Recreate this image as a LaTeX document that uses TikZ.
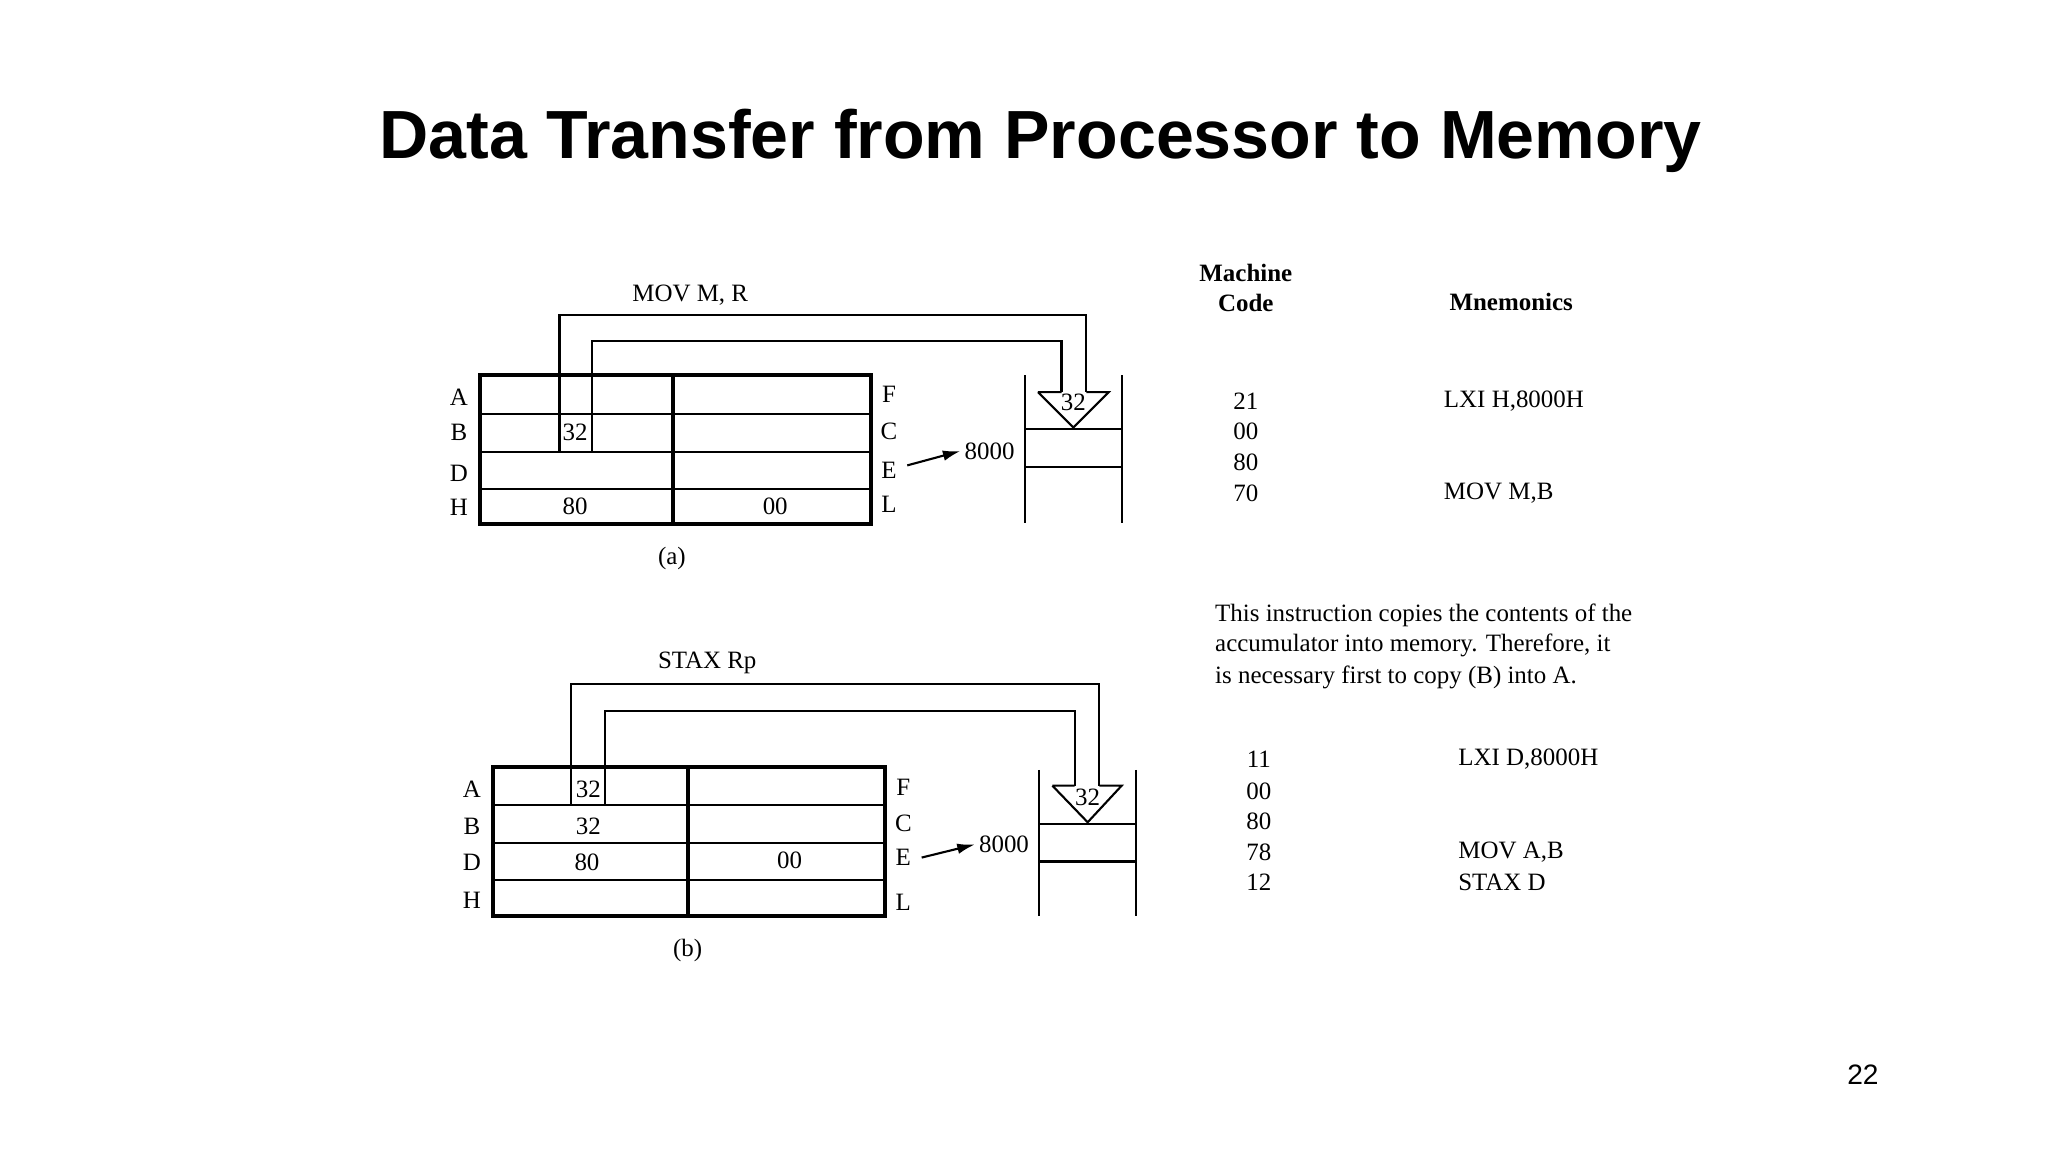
\documentclass[tikz,border=0pt]{standalone}
\usepackage{fontspec}
\setmainfont{Liberation Serif}
\newfontfamily\sansf{Liberation Sans}
\usetikzlibrary{arrows.meta}
\begin{document}
\begin{tikzpicture}[x=0.013074cm,y=-0.013074cm,
  t/.style={inner sep=0pt,font=\fontsize{7.1}{8}\selectfont},
  tb/.style={t,font=\fontsize{7.1}{8}\selectfont\bfseries},
  box/.style={line width=1.1pt},
  thin/.style={line width=0.6pt},
  arr/.style={line width=0.6pt,-{Latex[length=5pt,width=3pt]}}]
\useasboundingbox (0,0) rectangle (1566.6,881.2);
\node[inner sep=0pt,font=\sansf\bfseries\fontsize{19.4}{22}\selectfont] (title) at (796,108) {Data Transfer from Processor to Memory};
\node[inner sep=0pt,font=\sansf\fontsize{8}{9}\selectfont] (pg) at (1425,822) {22};

% ---------- (a)
\draw[thin] (367,317)--(666,317) (367,346)--(666,346) (367,374)--(666,374);
\draw[box] (515,287)--(515,401);
\draw[box] (367,287) rectangle (666,401);
\draw[thin] (428,346)--(428,241)--(831,241)--(831,300);
\draw[thin] (453,346)--(453,261)--(812,261)--(812,300);
\draw[thin] (794,300)--(812,300) (831,300)--(848,300)--(821,327)--(794,300);
\draw[thin] (784,287)--(784,400) (858,287)--(858,400) (784,328)--(858,328) (784,357)--(858,357);
\foreach \n/\l/\y in {aA/A/304,aB/B/331,aD/D/362,aH/H/388} \node[t] (\n) at (351,\y) {\l};
\foreach \n/\l/\y in {aF/F/302,aC/C/330,aE/E/360,aL/L/386} \node[t] (\n) at (680,\y) {\l};
\node[t] (a32) at (440,331) {32};
\node[t] (a80) at (440,387) {80};
\node[t] (a00) at (593,387) {00};
\node[t] (atri) at (821,308) {32};
\node[t] (a8000) at (757,345) {8000};
\coordinate (aEs) at (694,356);
\draw[arr] (aEs) -- ([xshift=-1pt]a8000.west);
\node[t] (amov) at (528,226) {MOV M, R};
\node[t] (acap) at (514,427) {(a)};

% ---------- (b)
\draw[thin] (377,616)--(677,616) (377,645)--(677,645) (377,673)--(677,673);
\draw[box] (526,587)--(526,701);
\draw[box] (377,587) rectangle (677,701);
\draw[thin] (437,616)--(437,523)--(841,523)--(841,601);
\draw[thin] (463,616)--(463,544)--(822,544)--(822,601);
\draw[thin] (805,601)--(822,601) (841,601)--(858,601)--(832,629)--(805,601);
\draw[thin] (795,589)--(795,701) (869,589)--(869,701) (795,630)--(869,630) (795,659)--(869,659);
\foreach \n/\l/\y in {bA/A/604,bB/B/632,bD/D/660,bH/H/689} \node[t] (\n) at (361,\y) {\l};
\foreach \n/\l/\y in {bF/F/602,bC/C/630,bE/E/656,bL/L/690} \node[t] (\n) at (691,\y) {\l};
\node[t] (b32a) at (450,604) {32};
\node[t] (b32b) at (450,632) {32};
\node[t] (b80) at (449,660) {80};
\node[t] (b00) at (604,658) {00};
\node[t] (btri) at (832,610) {32};
\node[t] (b8000) at (768,646) {8000};
\coordinate (bEs) at (705,656);
\draw[arr] (bEs) -- ([xshift=-1pt]b8000.west);
\node[t] (bstax) at (541,507) {STAX Rp};
\node[t] (bcap) at (526,727) {(b)};

% ---------- right text
\node[tb] (mach) at (953,209) {Machine};
\node[tb] (code) at (953,232) {Code};
\node[tb] (mnem) at (1156,231) {Mnemonics};
\foreach \n/\v/\y in {c1/21/307,c2/00/330,c3/80/354,c4/70/377} \node[t] (\n) at (953,\y) {\v};
\node[t,anchor=west] (m1) at (1104,307) {LXI H,8000H};
\node[t,anchor=west] (m2) at (1104,377) {MOV M,B};
\node[t,anchor=west] (p1) at (929,471) {This instruction copies the contents of the};
\node[t,anchor=west] (p2) at (929,494) {accumulator into memory. Therefore, it};
\node[t,anchor=west] (p3) at (929,518) {is necessary first to copy (B) into A.};
\foreach \n/\v/\y in {d1/11/581,d2/00/605,d3/80/628,d4/78/652,d5/12/675} \node[t] (\n) at (963,\y) {\v};
\node[t,anchor=west] (n1) at (1115,581) {LXI D,8000H};
\node[t,anchor=west] (n2) at (1115,652) {MOV A,B};
\node[t,anchor=west] (n3) at (1115,675) {STAX D};
\end{tikzpicture}
\end{document}
